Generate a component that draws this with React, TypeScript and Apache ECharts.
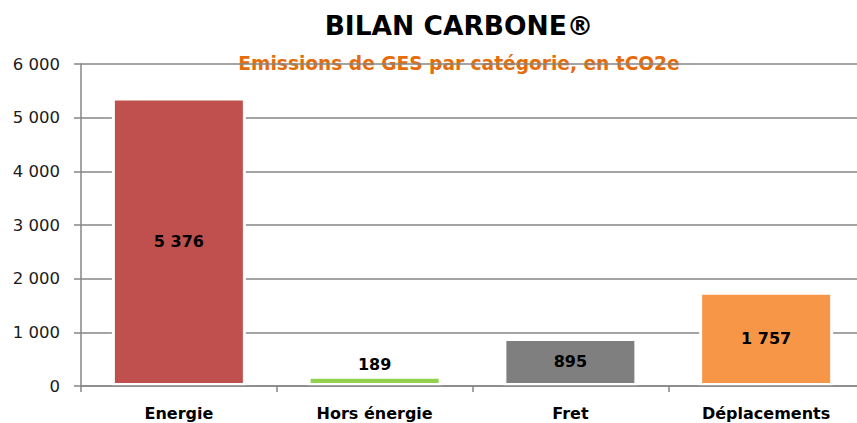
import React, { useEffect, useRef } from "react";
import * as echarts from "echarts";

const categories = ["Energie", "Hors énergie", "Fret", "Déplacements"];
const values = [5376, 189, 895, 1757];
const barColors = ["#C0504D", "#92D050", "#7F7F7F", "#F79646"];
const labelPositions = ["inside", "top", "inside", "inside"];
const yTicks = { min: 0, max: 6000, interval: 1000 };
const titleText = "BILAN CARBONE®";
const subtitleText = "Emissions de GES par catégorie, en tCO2e";

const fmt = (v: number) => String(Math.round(v)).replace(/\B(?=(\d{3})+(?!\d))/g, " ");
const FONT = "'DejaVu Sans', sans-serif";

export default function App() {
  const ref = useRef<HTMLDivElement>(null);
  useEffect(() => {
    if (!ref.current) return;
    const chart = echarts.init(ref.current, undefined, { renderer: "svg" });
    chart.setOption({
      animation: false,
      backgroundColor: "#ffffff",
      graphic: [
        {
          type: "text",
          x: 459,
          y: 25,
          z: 0,
          style: {
            text: titleText,
            fontFamily: FONT,
            fontWeight: "bold",
            fontSize: 26.5,
            fill: "#000000",
            textAlign: "center",
            textVerticalAlign: "middle",
          },
        },
        {
          type: "text",
          x: 459,
          y: 63,
          z: 0,
          style: {
            text: subtitleText,
            fontFamily: FONT,
            fontWeight: "bold",
            fontSize: 18.6,
            fill: "#E46C0A",
            textAlign: "center",
            textVerticalAlign: "middle",
          },
        },
      ],
      grid: { left: 81, top: 64, width: 783, height: 322, containLabel: false },
      xAxis: {
        type: "category",
        data: categories,
        z: 3,
        axisLine: { lineStyle: { color: "#868686", width: 1.5 } },
        axisTick: { show: true, length: 6, lineStyle: { color: "#868686", width: 1.5 } },
        axisLabel: {
          fontFamily: FONT,
          fontWeight: "bold",
          fontSize: 16,
          color: "#000000",
          margin: 19,
        },
      },
      yAxis: {
        type: "value",
        min: yTicks.min,
        max: yTicks.max,
        interval: yTicks.interval,
        z: 1,
        axisLine: { show: true, lineStyle: { color: "#868686", width: 1.5 } },
        axisTick: { show: true, length: 7, lineStyle: { color: "#868686", width: 1.5 } },
        splitLine: { show: true, lineStyle: { color: "#868686", width: 1.5 } },
        axisLabel: {
          fontFamily: FONT,
          fontSize: 16.5,
          color: "#1a1a1a",
          margin: 21,
          formatter: (v: number) => fmt(v),
        },
      },
      series: [
        {
          type: "bar",
          barWidth: 134,
          data: values.map((v, i) => ({
            value: v,
            itemStyle: { color: barColors[i], borderColor: "#ffffff", borderWidth: 3 },
            label: { position: labelPositions[i], distance: 3 },
          })),
          label: {
            show: true,
            fontFamily: FONT,
            fontWeight: "bold",
            fontSize: 16,
            color: "#000000",
            formatter: (p: any) => fmt(p.value),
          },
        },
      ],
    });
    return () => chart.dispose();
  }, []);
  return (
    <div
      ref={ref}
      style={{ position: "fixed", left: 0, top: 0, width: 870, height: 423 }}
    />
  );
}
